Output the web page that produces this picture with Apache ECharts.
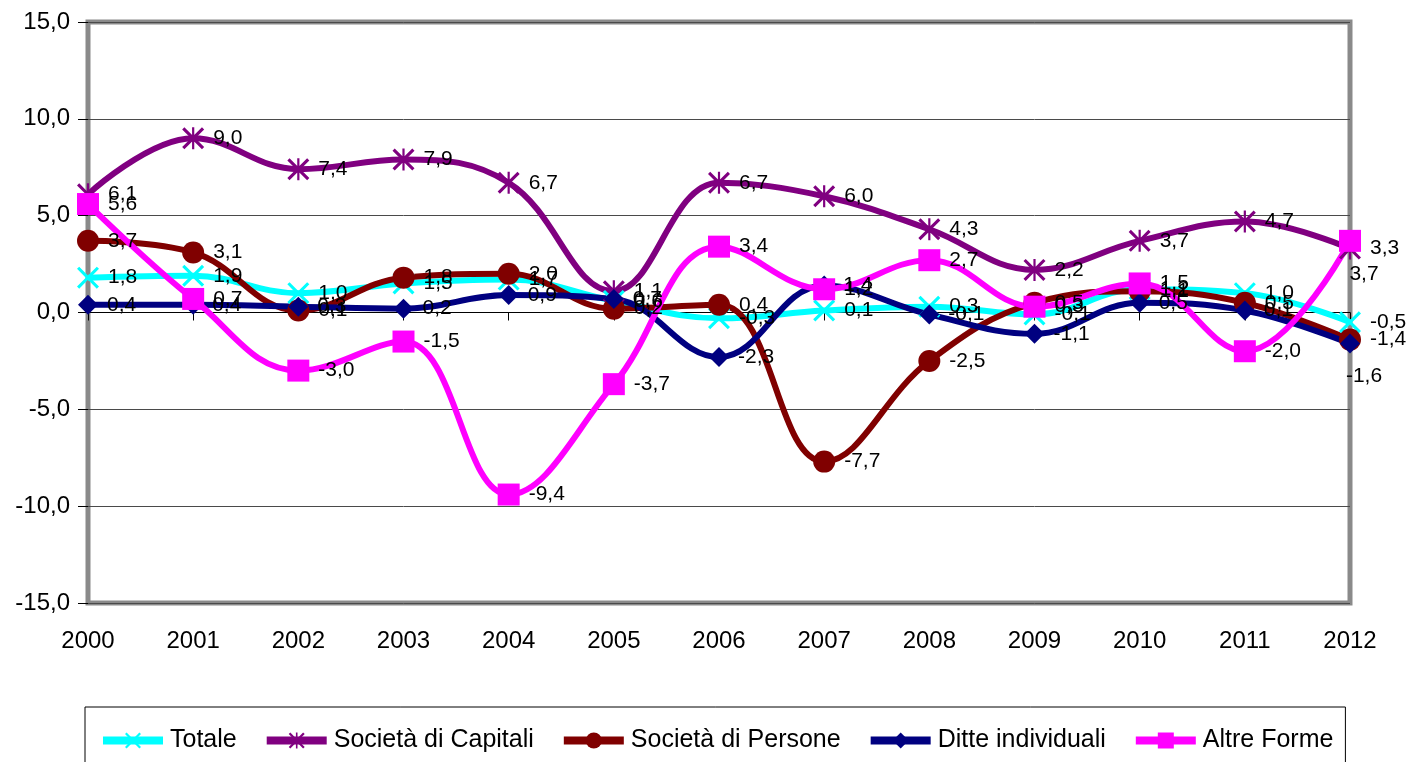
<!DOCTYPE html>
<html lang="it">
<head>
    <meta charset="utf-8" />
    <script src="https://cdn.jsdelivr.net/npm/echarts@6/dist/echarts.min.js"></script>
</head>
<body style="margin: 0; background: #fff">
    <div id="container" style="width: 1406px; height: 762px;"></div>
    <script type="text/javascript">
        var years = ['2000', '2001', '2002', '2003', '2004', '2005', '2006', '2007', '2008', '2009', '2010', '2011', '2012'];
        var yTicks = [-15, -10, -5, 0, 5, 10, 15];

        var totale = [1.8, 1.9, 1.0, 1.5, 1.7, 0.6, -0.3, 0.1, 0.3, -0.1, 1.2, 1.0, -0.5];
        var capitali = [6.1, 9.0, 7.4, 7.9, 6.7, 1.1, 6.7, 6.0, 4.3, 2.2, 3.7, 4.7, 3.3];
        var persone = [3.7, 3.1, 0.1, 1.8, 2.0, 0.2, 0.4, -7.7, -2.5, 0.5, 1.1, 0.5, -1.4];
        var ditte = [0.4, 0.4, 0.3, 0.2, 0.9, 0.7, -2.3, 1.4, -0.1, -1.1, 0.5, 0.1, -1.6];
        var altre = [5.6, 0.7, -3.0, -1.5, -9.4, -3.7, 3.4, 1.2, 2.7, 0.3, 1.5, -2.0, 3.7];

        var names = ['Totale', 'Società di Capitali', 'Società di Persone', 'Ditte individuali', 'Altre Forme'];
        var colors = ['#00FFFF', '#800080', '#800000', '#000080', '#FF00FF'];

        // marker shapes (Excel style)
        var xMark = 'path://M0,2 L2,0 L10,8 L18,0 L20,2 L12,10 L20,18 L18,20 L10,12 L2,20 L0,18 L8,10 Z';
        var starMark = 'path://M0,2 L2,0 L10,8 L18,0 L20,2 L12,10 L20,18 L18,20 L10,12 L2,20 L0,18 L8,10 Z M9,0 L11,0 L11,20 L9,20 Z';

        var font = 'Liberation Sans, Arial, sans-serif';

        function fmt(v) {
            return v.toFixed(1).replace('.', ',');
        }

        // the last labels of these two series sit under the point, as in the original
        function lastBelow(arr) {
            return arr.map(function (v, k) {
                if (k === arr.length - 1) {
                    return { value: v, label: { position: 'bottom', distance: 12, offset: [14, 0] } };
                }
                return v;
            });
        }

        function makeSeries(i, data, symbol, size) {
            return {
                name: names[i],
                type: 'line',
                data: data,
                smooth: 0.4,
                smoothConstraint: false,
                symbol: symbol,
                symbolSize: size,
                color: colors[i],
                lineStyle: { width: 6, color: colors[i] },
                itemStyle: { color: colors[i] },
                label: {
                    show: true,
                    position: 'right',
                    distance: 9,
                    color: '#000',
                    fontFamily: font,
                    fontSize: 21,
                    formatter: function (p) { return fmt(p.value); }
                },
                emphasis: { disabled: true }
            };
        }

        var dom = document.getElementById('container');
        var myChart = echarts.init(dom, null, { renderer: 'canvas' });

        var option = {
            backgroundColor: '#fff',
            animation: false,
            grid: {
                left: 88,
                right: 56,
                top: 22,
                bottom: 159,
                show: true,
                borderColor: '#8a8a8a',
                borderWidth: 5
            },
            legend: {
                data: names,
                left: 85,
                top: 707,
                padding: [21, 12, 30, 14],
                itemGap: 26,
                itemWidth: 60,
                itemHeight: 20,
                lineStyle: { width: 8 },
                borderColor: '#000',
                borderWidth: 1,
                textStyle: { fontFamily: font, fontSize: 25, color: '#000', padding: [0, 0, 0, 2] }
            },
            xAxis: [{
                type: 'category',
                data: years,
                boundaryGap: false,
                axisLine: { onZero: true, lineStyle: { color: '#000', width: 1 } },
                axisTick: { show: true, inside: false, length: 8, lineStyle: { color: '#000' } },
                axisLabel: { show: false },
                splitLine: { show: false }
            }, {
                type: 'category',
                data: years,
                position: 'bottom',
                boundaryGap: false,
                axisLine: { show: false, onZero: false },
                axisTick: { show: false },
                axisLabel: { margin: 26, color: '#000', fontFamily: font, fontSize: 24 }
            }],
            yAxis: {
                type: 'value',
                min: yTicks[0],
                max: yTicks[yTicks.length - 1],
                interval: 5,
                axisLine: { show: false },
                axisTick: { show: true, length: 10, lineStyle: { color: '#000' } },
                axisLabel: { margin: 18, color: '#000', fontFamily: font, fontSize: 24, formatter: fmt },
                splitLine: { show: true, lineStyle: { color: '#4a4a4a', width: 1 } }
            },
            series: [
                makeSeries(0, totale, xMark, 22),
                makeSeries(1, capitali, starMark, 22),
                makeSeries(2, persone, 'circle', 22),
                makeSeries(3, lastBelow(ditte), 'diamond', 20),
                makeSeries(4, lastBelow(altre), 'rect', 22)
            ]
        };

        myChart.setOption(option);
        window.addEventListener('resize', myChart.resize);
    </script>
</body>
</html>
